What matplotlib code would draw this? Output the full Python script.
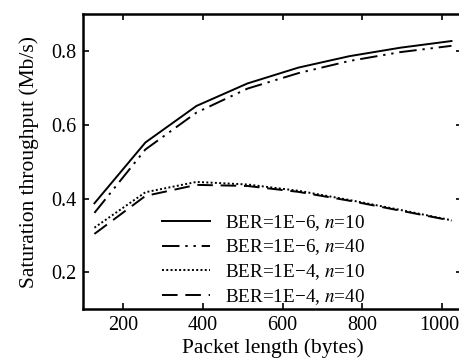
import matplotlib
matplotlib.use('Agg')
import matplotlib.pyplot as plt
import matplotlib.transforms as mtransforms

plt.rcParams['font.family'] = ['Liberation Serif', 'DejaVu Serif']
plt.rcParams['mathtext.fontset'] = 'stix'

# packet lengths (bytes)
pkt_len = [128, 256, 384, 512, 640, 768, 896, 1024]

# saturation throughput (Mb/s)
thr_e6_n10 = [0.387, 0.552, 0.651, 0.712, 0.755, 0.786, 0.809, 0.827]
thr_e6_n40 = [0.361, 0.533, 0.633, 0.698, 0.740, 0.773, 0.797, 0.814]
thr_e4_n10 = [0.321, 0.417, 0.445, 0.438, 0.421, 0.396, 0.369, 0.341]
thr_e4_n40 = [0.304, 0.407, 0.437, 0.434, 0.418, 0.394, 0.367, 0.340]

labels = ['BER=1E\u22126, $n$=10', 'BER=1E\u22126, $n$=40',
          'BER=1E\u22124, $n$=10', 'BER=1E\u22124, $n$=40']

fig = plt.figure(figsize=(4.6, 3.62), dpi=100)
ax = fig.add_axes([0.181, 0.146, 0.823, 0.815])

lw = 1.4
ax.plot(pkt_len, thr_e6_n10, color='k', lw=lw, ls='-', label=labels[0])
ax.plot(pkt_len, thr_e6_n40, color='k', lw=lw, dashes=[9, 3, 1.2, 3, 1.2, 3], label=labels[1])
ax.plot(pkt_len, thr_e4_n10, color='k', lw=lw, dashes=[1, 1.2], label=labels[2])
ax.plot(pkt_len, thr_e4_n40, color='k', lw=lw, dashes=[8, 4], label=labels[3])

ax.set_xlim(100, 1050)
ax.set_ylim(0.1, 0.9)
ax.set_xticks([200, 400, 600, 800, 1000])
ax.set_yticks([0.2, 0.4, 0.6, 0.8])
ax.set_yticklabels(['0.2', '0.4', '0.6', '0.8'])

ax.tick_params(direction='in', top=True, right=True, length=4, width=1.2,
               labelsize=14.5, pad=5)
for s in ax.spines.values():
    s.set_linewidth(1.8)

# the last label sits right at the figure edge; nudge it in a little
last = ax.xaxis.get_major_ticks()[-1].label1
last.set_transform(last.get_transform() +
                   mtransforms.ScaledTranslation(-2 / 72, 0, fig.dpi_scale_trans))

ax.set_xlabel('Packet length (bytes)', fontsize=15.5, labelpad=2)
ax.set_ylabel('Saturation throughput (Mb/s)', fontsize=15.5, labelpad=9)

ax.legend(loc='lower left', bbox_to_anchor=(0.163, -0.05), frameon=False,
          fontsize=13.8, handlelength=2.5, handletextpad=0.75, labelspacing=0.25)

fig.savefig('out.png', dpi=100)
